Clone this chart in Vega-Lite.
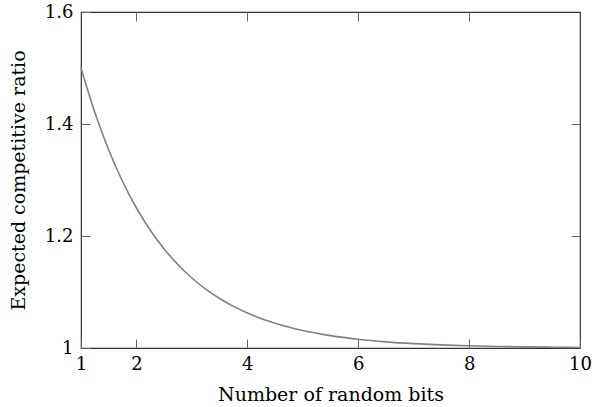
{
  "$schema": "https://vega.github.io/schema/vega-lite/v6.json",
  "width": 499,
  "height": 336,
  "autosize": "none",
  "padding": {"left": 81, "top": 12, "right": 12, "bottom": 59},
  "background": "white",
  "config": {
    "font": "DejaVu Serif",
    "view": {"stroke": "#333333", "strokeWidth": 1.2},
    "axis": {
      "grid": false,
      "domain": false,
      "tickColor": "#666666",
      "tickWidth": 1,
      "tickSize": -9,
      "labelFont": "DejaVu Serif",
      "labelFontSize": 18,
      "labelColor": "#000000",
      "titleFont": "DejaVu Serif",
      "titleFontSize": 19,
      "titleFontWeight": "normal",
      "titleColor": "#000000"
    }
  },
  "data": {
    "values": [
      {"bits": 1, "ratio": 1.5},
      {"bits": 1.25, "ratio": 1.4204},
      {"bits": 1.5, "ratio": 1.3536},
      {"bits": 1.75, "ratio": 1.2973},
      {"bits": 2, "ratio": 1.25},
      {"bits": 2.25, "ratio": 1.2102},
      {"bits": 2.5, "ratio": 1.1768},
      {"bits": 2.75, "ratio": 1.1487},
      {"bits": 3, "ratio": 1.125},
      {"bits": 3.25, "ratio": 1.1051},
      {"bits": 3.5, "ratio": 1.0884},
      {"bits": 3.75, "ratio": 1.0743},
      {"bits": 4, "ratio": 1.0625},
      {"bits": 4.5, "ratio": 1.0442},
      {"bits": 5, "ratio": 1.0313},
      {"bits": 5.5, "ratio": 1.0221},
      {"bits": 6, "ratio": 1.0156},
      {"bits": 6.5, "ratio": 1.011},
      {"bits": 7, "ratio": 1.0078},
      {"bits": 7.5, "ratio": 1.0055},
      {"bits": 8, "ratio": 1.0039},
      {"bits": 8.5, "ratio": 1.0028},
      {"bits": 9, "ratio": 1.002},
      {"bits": 9.5, "ratio": 1.0014},
      {"bits": 10, "ratio": 1.001}
    ]
  },
  "resolve": {"axis": {"x": "independent", "y": "independent"}},
  "layer": [
    {
      "mark": {"type": "line", "color": "#808080", "strokeWidth": 1.6, "interpolate": "monotone"},
      "encoding": {
        "x": {
          "field": "bits", "type": "quantitative",
          "scale": {"domain": [1, 10], "nice": false, "zero": false},
          "axis": {"values": [1, 2, 4, 6, 8, 10], "title": "Number of random bits", "labelPadding": 16, "titlePadding": 12, "labelFlush": false}
        },
        "y": {
          "field": "ratio", "type": "quantitative",
          "scale": {"domain": [1, 1.6], "nice": false, "zero": false},
          "axis": {"values": [1, 1.2, 1.4, 1.6], "title": "Expected competitive ratio", "labelPadding": 17, "titlePadding": 16, "labelFlush": false,
                   "labelExpr": "datum.value == 1 ? '1' : format(datum.value, '.1f')"}
        }
      }
    },
    {
      "mark": {"type": "line", "color": "#808080", "strokeWidth": 1.6, "interpolate": "monotone", "opacity": 0},
      "encoding": {
        "x": {
          "field": "bits", "type": "quantitative",
          "axis": {"orient": "top", "values": [2, 4, 6, 8], "labels": false, "title": null}
        },
        "y": {
          "field": "ratio", "type": "quantitative",
          "axis": {"orient": "right", "values": [1.2, 1.4], "labels": false, "title": null}
        }
      }
    }
  ]
}
